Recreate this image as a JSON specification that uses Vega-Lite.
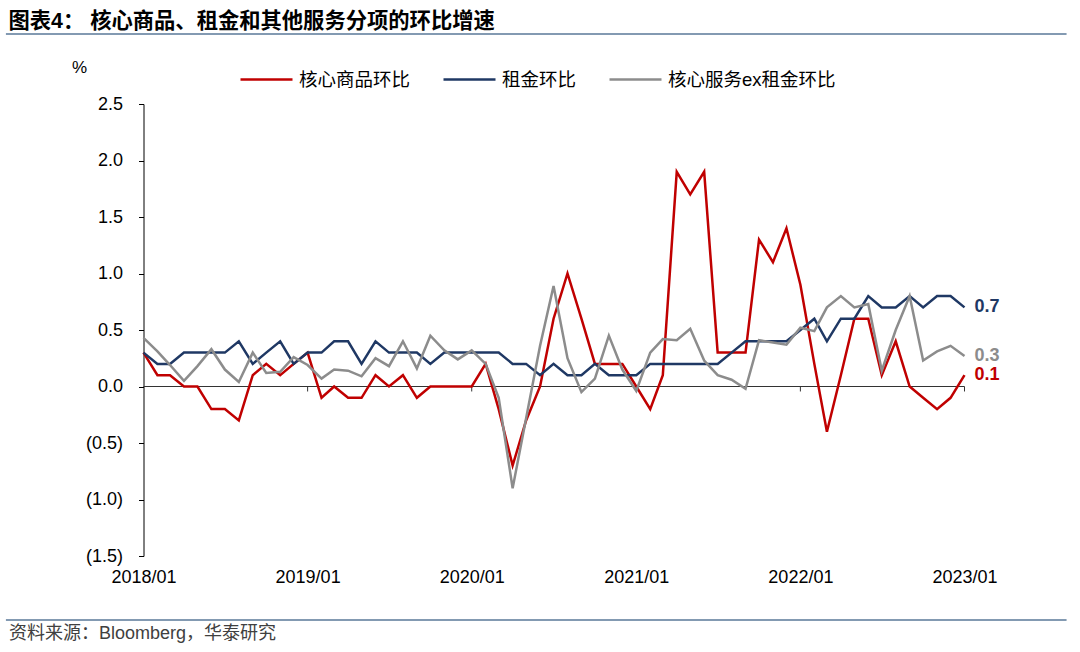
{
 "$schema": "https://vega.github.io/schema/vega-lite/v6.json",
 "width": 821,
 "height": 452,
 "autosize": {"type": "none"},
 "padding": {"left": 143.5, "top": 104, "right": 115.5, "bottom": 96},
 "background": "#ffffff",
 "config": {"view": {"stroke": null}, "font": "Liberation Sans, Noto Sans CJK SC"},
 "title": {"text": "图表4：  核心商品、租金和其他服务分项的环比增速", "anchor": "start", "frame": "group", "orient": "top", "dx": -135, "offset": 1, "fontSize": 21.3, "fontWeight": "bold", "font": "Liberation Sans, Noto Sans CJK SC", "color": "#000000"},
 "resolve": {"axis": {"x": "independent", "y": "independent"}},
 "datasets": {
  "yearTicks": [{"date": "2019/01/01"}, {"date": "2020/01/01"}, {"date": "2021/01/01"}, {"date": "2022/01/01"}, {"date": "2023/01/01"}],
  "series": [
   {"date": "2018/01/01", "series": "核心商品环比", "value": 0.3},
   {"date": "2018/02/01", "series": "核心商品环比", "value": 0.1},
   {"date": "2018/03/01", "series": "核心商品环比", "value": 0.1},
   {"date": "2018/04/01", "series": "核心商品环比", "value": 0.0},
   {"date": "2018/05/01", "series": "核心商品环比", "value": 0.0},
   {"date": "2018/06/01", "series": "核心商品环比", "value": -0.2},
   {"date": "2018/07/01", "series": "核心商品环比", "value": -0.2},
   {"date": "2018/08/01", "series": "核心商品环比", "value": -0.3},
   {"date": "2018/09/01", "series": "核心商品环比", "value": 0.1},
   {"date": "2018/10/01", "series": "核心商品环比", "value": 0.2},
   {"date": "2018/11/01", "series": "核心商品环比", "value": 0.1},
   {"date": "2018/12/01", "series": "核心商品环比", "value": 0.2},
   {"date": "2019/01/01", "series": "核心商品环比", "value": 0.3},
   {"date": "2019/02/01", "series": "核心商品环比", "value": -0.1},
   {"date": "2019/03/01", "series": "核心商品环比", "value": 0.0},
   {"date": "2019/04/01", "series": "核心商品环比", "value": -0.1},
   {"date": "2019/05/01", "series": "核心商品环比", "value": -0.1},
   {"date": "2019/06/01", "series": "核心商品环比", "value": 0.1},
   {"date": "2019/07/01", "series": "核心商品环比", "value": 0.0},
   {"date": "2019/08/01", "series": "核心商品环比", "value": 0.1},
   {"date": "2019/09/01", "series": "核心商品环比", "value": -0.1},
   {"date": "2019/10/01", "series": "核心商品环比", "value": 0.0},
   {"date": "2019/11/01", "series": "核心商品环比", "value": 0.0},
   {"date": "2019/12/01", "series": "核心商品环比", "value": 0.0},
   {"date": "2020/01/01", "series": "核心商品环比", "value": 0.0},
   {"date": "2020/02/01", "series": "核心商品环比", "value": 0.2},
   {"date": "2020/03/01", "series": "核心商品环比", "value": -0.2},
   {"date": "2020/04/01", "series": "核心商品环比", "value": -0.7},
   {"date": "2020/05/01", "series": "核心商品环比", "value": -0.3},
   {"date": "2020/06/01", "series": "核心商品环比", "value": 0.0},
   {"date": "2020/07/01", "series": "核心商品环比", "value": 0.6},
   {"date": "2020/08/01", "series": "核心商品环比", "value": 1.0},
   {"date": "2020/09/01", "series": "核心商品环比", "value": 0.6},
   {"date": "2020/10/01", "series": "核心商品环比", "value": 0.2},
   {"date": "2020/11/01", "series": "核心商品环比", "value": 0.2},
   {"date": "2020/12/01", "series": "核心商品环比", "value": 0.2},
   {"date": "2021/01/01", "series": "核心商品环比", "value": 0.0},
   {"date": "2021/02/01", "series": "核心商品环比", "value": -0.2},
   {"date": "2021/03/01", "series": "核心商品环比", "value": 0.1},
   {"date": "2021/04/01", "series": "核心商品环比", "value": 1.9},
   {"date": "2021/05/01", "series": "核心商品环比", "value": 1.7},
   {"date": "2021/06/01", "series": "核心商品环比", "value": 1.9},
   {"date": "2021/07/01", "series": "核心商品环比", "value": 0.3},
   {"date": "2021/08/01", "series": "核心商品环比", "value": 0.3},
   {"date": "2021/09/01", "series": "核心商品环比", "value": 0.3},
   {"date": "2021/10/01", "series": "核心商品环比", "value": 1.3},
   {"date": "2021/11/01", "series": "核心商品环比", "value": 1.1},
   {"date": "2021/12/01", "series": "核心商品环比", "value": 1.4},
   {"date": "2022/01/01", "series": "核心商品环比", "value": 0.9},
   {"date": "2022/02/01", "series": "核心商品环比", "value": 0.2},
   {"date": "2022/03/01", "series": "核心商品环比", "value": -0.4},
   {"date": "2022/04/01", "series": "核心商品环比", "value": 0.1},
   {"date": "2022/05/01", "series": "核心商品环比", "value": 0.6},
   {"date": "2022/06/01", "series": "核心商品环比", "value": 0.6},
   {"date": "2022/07/01", "series": "核心商品环比", "value": 0.1},
   {"date": "2022/08/01", "series": "核心商品环比", "value": 0.4},
   {"date": "2022/09/01", "series": "核心商品环比", "value": 0.0},
   {"date": "2022/10/01", "series": "核心商品环比", "value": -0.1},
   {"date": "2022/11/01", "series": "核心商品环比", "value": -0.2},
   {"date": "2022/12/01", "series": "核心商品环比", "value": -0.1},
   {"date": "2023/01/01", "series": "核心商品环比", "value": 0.1},
   {"date": "2018/01/01", "series": "租金环比", "value": 0.3},
   {"date": "2018/02/01", "series": "租金环比", "value": 0.2},
   {"date": "2018/03/01", "series": "租金环比", "value": 0.2},
   {"date": "2018/04/01", "series": "租金环比", "value": 0.3},
   {"date": "2018/05/01", "series": "租金环比", "value": 0.3},
   {"date": "2018/06/01", "series": "租金环比", "value": 0.3},
   {"date": "2018/07/01", "series": "租金环比", "value": 0.3},
   {"date": "2018/08/01", "series": "租金环比", "value": 0.4},
   {"date": "2018/09/01", "series": "租金环比", "value": 0.2},
   {"date": "2018/10/01", "series": "租金环比", "value": 0.3},
   {"date": "2018/11/01", "series": "租金环比", "value": 0.4},
   {"date": "2018/12/01", "series": "租金环比", "value": 0.2},
   {"date": "2019/01/01", "series": "租金环比", "value": 0.3},
   {"date": "2019/02/01", "series": "租金环比", "value": 0.3},
   {"date": "2019/03/01", "series": "租金环比", "value": 0.4},
   {"date": "2019/04/01", "series": "租金环比", "value": 0.4},
   {"date": "2019/05/01", "series": "租金环比", "value": 0.2},
   {"date": "2019/06/01", "series": "租金环比", "value": 0.4},
   {"date": "2019/07/01", "series": "租金环比", "value": 0.3},
   {"date": "2019/08/01", "series": "租金环比", "value": 0.3},
   {"date": "2019/09/01", "series": "租金环比", "value": 0.3},
   {"date": "2019/10/01", "series": "租金环比", "value": 0.2},
   {"date": "2019/11/01", "series": "租金环比", "value": 0.3},
   {"date": "2019/12/01", "series": "租金环比", "value": 0.3},
   {"date": "2020/01/01", "series": "租金环比", "value": 0.3},
   {"date": "2020/02/01", "series": "租金环比", "value": 0.3},
   {"date": "2020/03/01", "series": "租金环比", "value": 0.3},
   {"date": "2020/04/01", "series": "租金环比", "value": 0.2},
   {"date": "2020/05/01", "series": "租金环比", "value": 0.2},
   {"date": "2020/06/01", "series": "租金环比", "value": 0.1},
   {"date": "2020/07/01", "series": "租金环比", "value": 0.2},
   {"date": "2020/08/01", "series": "租金环比", "value": 0.1},
   {"date": "2020/09/01", "series": "租金环比", "value": 0.1},
   {"date": "2020/10/01", "series": "租金环比", "value": 0.2},
   {"date": "2020/11/01", "series": "租金环比", "value": 0.1},
   {"date": "2020/12/01", "series": "租金环比", "value": 0.1},
   {"date": "2021/01/01", "series": "租金环比", "value": 0.1},
   {"date": "2021/02/01", "series": "租金环比", "value": 0.2},
   {"date": "2021/03/01", "series": "租金环比", "value": 0.2},
   {"date": "2021/04/01", "series": "租金环比", "value": 0.2},
   {"date": "2021/05/01", "series": "租金环比", "value": 0.2},
   {"date": "2021/06/01", "series": "租金环比", "value": 0.2},
   {"date": "2021/07/01", "series": "租金环比", "value": 0.2},
   {"date": "2021/08/01", "series": "租金环比", "value": 0.3},
   {"date": "2021/09/01", "series": "租金环比", "value": 0.4},
   {"date": "2021/10/01", "series": "租金环比", "value": 0.4},
   {"date": "2021/11/01", "series": "租金环比", "value": 0.4},
   {"date": "2021/12/01", "series": "租金环比", "value": 0.4},
   {"date": "2022/01/01", "series": "租金环比", "value": 0.5},
   {"date": "2022/02/01", "series": "租金环比", "value": 0.6},
   {"date": "2022/03/01", "series": "租金环比", "value": 0.4},
   {"date": "2022/04/01", "series": "租金环比", "value": 0.6},
   {"date": "2022/05/01", "series": "租金环比", "value": 0.6},
   {"date": "2022/06/01", "series": "租金环比", "value": 0.8},
   {"date": "2022/07/01", "series": "租金环比", "value": 0.7},
   {"date": "2022/08/01", "series": "租金环比", "value": 0.7},
   {"date": "2022/09/01", "series": "租金环比", "value": 0.8},
   {"date": "2022/10/01", "series": "租金环比", "value": 0.7},
   {"date": "2022/11/01", "series": "租金环比", "value": 0.8},
   {"date": "2022/12/01", "series": "租金环比", "value": 0.8},
   {"date": "2023/01/01", "series": "租金环比", "value": 0.7},
   {"date": "2018/01/01", "series": "核心服务ex租金环比", "value": 0.43},
   {"date": "2018/02/01", "series": "核心服务ex租金环比", "value": 0.31},
   {"date": "2018/03/01", "series": "核心服务ex租金环比", "value": 0.19},
   {"date": "2018/04/01", "series": "核心服务ex租金环比", "value": 0.05},
   {"date": "2018/05/01", "series": "核心服务ex租金环比", "value": 0.18},
   {"date": "2018/06/01", "series": "核心服务ex租金环比", "value": 0.33},
   {"date": "2018/07/01", "series": "核心服务ex租金环比", "value": 0.15},
   {"date": "2018/08/01", "series": "核心服务ex租金环比", "value": 0.04},
   {"date": "2018/09/01", "series": "核心服务ex租金环比", "value": 0.30},
   {"date": "2018/10/01", "series": "核心服务ex租金环比", "value": 0.12},
   {"date": "2018/11/01", "series": "核心服务ex租金环比", "value": 0.13},
   {"date": "2018/12/01", "series": "核心服务ex租金环比", "value": 0.26},
   {"date": "2019/01/01", "series": "核心服务ex租金环比", "value": 0.19},
   {"date": "2019/02/01", "series": "核心服务ex租金环比", "value": 0.07},
   {"date": "2019/03/01", "series": "核心服务ex租金环比", "value": 0.15},
   {"date": "2019/04/01", "series": "核心服务ex租金环比", "value": 0.14},
   {"date": "2019/05/01", "series": "核心服务ex租金环比", "value": 0.09},
   {"date": "2019/06/01", "series": "核心服务ex租金环比", "value": 0.25},
   {"date": "2019/07/01", "series": "核心服务ex租金环比", "value": 0.18},
   {"date": "2019/08/01", "series": "核心服务ex租金环比", "value": 0.40},
   {"date": "2019/09/01", "series": "核心服务ex租金环比", "value": 0.16},
   {"date": "2019/10/01", "series": "核心服务ex租金环比", "value": 0.45},
   {"date": "2019/11/01", "series": "核心服务ex租金环比", "value": 0.32},
   {"date": "2019/12/01", "series": "核心服务ex租金环比", "value": 0.24},
   {"date": "2020/01/01", "series": "核心服务ex租金环比", "value": 0.32},
   {"date": "2020/02/01", "series": "核心服务ex租金环比", "value": 0.20},
   {"date": "2020/03/01", "series": "核心服务ex租金环比", "value": -0.10},
   {"date": "2020/04/01", "series": "核心服务ex租金环比", "value": -0.90},
   {"date": "2020/05/01", "series": "核心服务ex租金环比", "value": -0.28},
   {"date": "2020/06/01", "series": "核心服务ex租金环比", "value": 0.36},
   {"date": "2020/07/01", "series": "核心服务ex租金环比", "value": 0.89},
   {"date": "2020/08/01", "series": "核心服务ex租金环比", "value": 0.25},
   {"date": "2020/09/01", "series": "核心服务ex租金环比", "value": -0.05},
   {"date": "2020/10/01", "series": "核心服务ex租金环比", "value": 0.07},
   {"date": "2020/11/01", "series": "核心服务ex租金环比", "value": 0.45},
   {"date": "2020/12/01", "series": "核心服务ex租金环比", "value": 0.15},
   {"date": "2021/01/01", "series": "核心服务ex租金环比", "value": -0.04},
   {"date": "2021/02/01", "series": "核心服务ex租金环比", "value": 0.30},
   {"date": "2021/03/01", "series": "核心服务ex租金环比", "value": 0.42},
   {"date": "2021/04/01", "series": "核心服务ex租金环比", "value": 0.41},
   {"date": "2021/05/01", "series": "核心服务ex租金环比", "value": 0.51},
   {"date": "2021/06/01", "series": "核心服务ex租金环比", "value": 0.23},
   {"date": "2021/07/01", "series": "核心服务ex租金环比", "value": 0.10},
   {"date": "2021/08/01", "series": "核心服务ex租金环比", "value": 0.06},
   {"date": "2021/09/01", "series": "核心服务ex租金环比", "value": -0.02},
   {"date": "2021/10/01", "series": "核心服务ex租金环比", "value": 0.41},
   {"date": "2021/11/01", "series": "核心服务ex租金环比", "value": 0.39},
   {"date": "2021/12/01", "series": "核心服务ex租金环比", "value": 0.37},
   {"date": "2022/01/01", "series": "核心服务ex租金环比", "value": 0.52},
   {"date": "2022/02/01", "series": "核心服务ex租金环比", "value": 0.49},
   {"date": "2022/03/01", "series": "核心服务ex租金环比", "value": 0.70},
   {"date": "2022/04/01", "series": "核心服务ex租金环比", "value": 0.80},
   {"date": "2022/05/01", "series": "核心服务ex租金环比", "value": 0.70},
   {"date": "2022/06/01", "series": "核心服务ex租金环比", "value": 0.73},
   {"date": "2022/07/01", "series": "核心服务ex租金环比", "value": 0.14},
   {"date": "2022/08/01", "series": "核心服务ex租金环比", "value": 0.50},
   {"date": "2022/09/01", "series": "核心服务ex租金环比", "value": 0.80},
   {"date": "2022/10/01", "series": "核心服务ex租金环比", "value": 0.23},
   {"date": "2022/11/01", "series": "核心服务ex租金环比", "value": 0.31},
   {"date": "2022/12/01", "series": "核心服务ex租金环比", "value": 0.36},
   {"date": "2023/01/01", "series": "核心服务ex租金环比", "value": 0.27}
  ]
 },
 "layer": [
  {
   "data": {"values": [{}]},
   "mark": {"type": "rule", "color": "#5A7898", "strokeWidth": 1.5},
   "encoding": {
    "x": {"datum": {"year": 2017, "month": 3, "date": 1}, "type": "temporal", "scale": {"domain": [{"year": 2018, "month": 1, "date": 1}, {"year": 2023, "month": 1, "date": 1}], "nice": false}, "axis": null},
    "x2": {"datum": {"year": 2023, "month": 8, "date": 16}},
    "y": {"datum": 3.12, "type": "quantitative", "scale": {"domain": [-1.5, 2.5], "nice": false, "zero": false}, "axis": null}
   }
  },
  {
   "data": {"values": [{}]},
   "mark": {"type": "rule", "color": "#5A7898", "strokeWidth": 1.5},
   "encoding": {
    "x": {"datum": {"year": 2017, "month": 3, "date": 1}, "type": "temporal", "scale": {"domain": [{"year": 2018, "month": 1, "date": 1}, {"year": 2023, "month": 1, "date": 1}], "nice": false}, "axis": null},
    "x2": {"datum": {"year": 2023, "month": 8, "date": 16}},
    "y": {"datum": -2.066, "type": "quantitative", "scale": {"domain": [-1.5, 2.5], "nice": false, "zero": false}, "axis": null}
   }
  },
  {
   "data": {"values": [{}]},
   "mark": {"type": "rule", "color": "#333333", "strokeWidth": 1},
   "encoding": {
    "x": {"datum": {"year": 2018, "month": 1, "date": 1}, "type": "temporal", "scale": {"domain": [{"year": 2018, "month": 1, "date": 1}, {"year": 2023, "month": 1, "date": 1}], "nice": false}, "axis": null},
    "x2": {"datum": {"year": 2023, "month": 1, "date": 1}},
    "y": {"datum": 0, "type": "quantitative", "scale": {"domain": [-1.5, 2.5], "nice": false, "zero": false}, "axis": null}
   }
  },
  {
   "data": {"name": "yearTicks"},
   "mark": {"type": "rule", "color": "#333333", "strokeWidth": 1},
   "encoding": {
    "x": {"field": "date", "type": "temporal", "scale": {"domain": [{"year": 2018, "month": 1, "date": 1}, {"year": 2023, "month": 1, "date": 1}], "nice": false}, "axis": null},
    "y": {"datum": 0, "type": "quantitative", "scale": {"domain": [-1.5, 2.5], "nice": false, "zero": false}, "axis": null},
    "y2": {"datum": -0.044}
   }
  },
  {
   "data": {"name": "series"},
   "mark": {"type": "line", "strokeWidth": 2.5},
   "encoding": {
    "x": {"field": "date", "type": "temporal",
     "scale": {"domain": [{"year": 2018, "month": 1, "date": 1}, {"year": 2023, "month": 1, "date": 1}], "nice": false},
     "axis": {"values": [{"year": 2018, "month": 1, "date": 1}, {"year": 2019, "month": 1, "date": 1}, {"year": 2020, "month": 1, "date": 1}, {"year": 2021, "month": 1, "date": 1}, {"year": 2022, "month": 1, "date": 1}, {"year": 2023, "month": 1, "date": 1}],
      "format": "%Y/%m", "formatType": "time", "labelFontSize": 18, "labelFont": "Liberation Sans", "labelColor": "#000000", "ticks": false, "domain": false, "grid": false, "labelPadding": 12, "labelFlush": false, "labelOverlap": false,
      "title": "资料来源：Bloomberg，华泰研究", "titleX": -135, "titleY": 77, "titleAlign": "left", "titleAnchor": null, "titleBaseline": "middle", "titleFontSize": 18, "titleFontWeight": "normal", "titleColor": "#404040", "titleFont": "Liberation Sans, Noto Sans CJK SC"}},
    "y": {"field": "value", "type": "quantitative",
     "scale": {"domain": [-1.5, 2.5], "nice": false, "zero": false},
     "axis": {"values": [-1.5, -1, -0.5, 0, 0.5, 1, 1.5, 2, 2.5], "labelExpr": "datum.value < 0 ? '(' + format(-datum.value, '.1f') + ')' : format(datum.value, '.1f')", "grid": false, "domainColor": "#000000", "tickColor": "#000000", "tickSize": 5, "labelPadding": 16, "labelFontSize": 18, "labelFont": "Liberation Sans", "labelColor": "#000000",
      "title": "%", "titleAngle": 0, "titleX": -64.5, "titleY": -37, "titleAlign": "center", "titleBaseline": "middle", "titleFontSize": 17, "titleFontWeight": "normal", "titleFont": "Liberation Sans", "titleColor": "#000000"}},
    "color": {"field": "series", "type": "nominal",
     "scale": {"domain": ["核心商品环比", "租金环比", "核心服务ex租金环比"], "range": ["#C00000", "#1F3864", "#8C8C8C"]},
     "legend": {"orient": "none", "legendX": 95.5, "legendY": -52, "direction": "horizontal", "title": null, "symbolType": "stroke", "symbolSize": 2704, "symbolStrokeWidth": 2.5, "labelFontSize": 18.5, "labelFont": "Liberation Sans, Noto Sans CJK SC", "labelColor": "#000000", "labelOffset": 5, "labelLimit": 400, "columnPadding": 27, "padding": 0}}
   }
  },
  {
   "data": {"name": "series"},
   "transform": [{"filter": {"field": "date", "timeUnit": "yearmonth", "equal": {"year": 2023, "month": 1}}}],
   "mark": {"type": "text", "align": "left", "baseline": "middle", "dx": 10, "fontSize": 18, "fontWeight": "bold", "font": "Liberation Sans"},
   "encoding": {
    "x": {"field": "date", "type": "temporal", "scale": {"domain": [{"year": 2018, "month": 1, "date": 1}, {"year": 2023, "month": 1, "date": 1}], "nice": false}, "axis": null},
    "y": {"field": "value", "type": "quantitative", "scale": {"domain": [-1.5, 2.5], "nice": false, "zero": false}, "axis": null},
    "text": {"field": "value", "type": "quantitative", "format": ".1f"},
    "color": {"field": "series", "type": "nominal", "scale": {"domain": ["核心商品环比", "租金环比", "核心服务ex租金环比"], "range": ["#C00000", "#1F3864", "#8C8C8C"]}, "legend": null}
   }
  }
 ]
}
